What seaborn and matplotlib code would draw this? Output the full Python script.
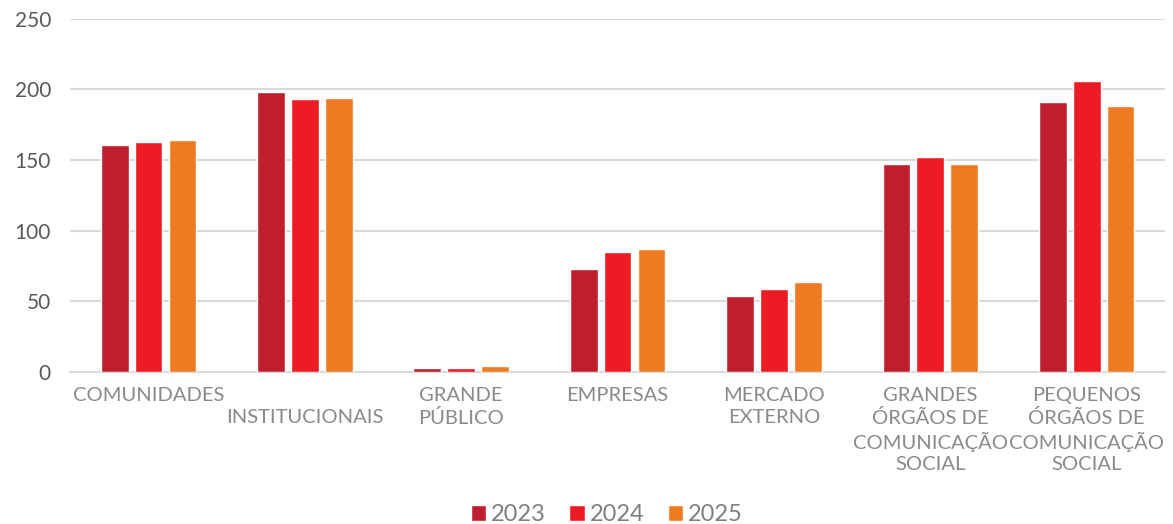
import pandas as pd
import seaborn as sns
import matplotlib.pyplot as plt

# Chart data
categories = ['COMUNIDADES', '\nINSTITUCIONAIS', 'GRANDE\nPÚBLICO', 'EMPRESAS',
              'MERCADO\nEXTERNO', 'GRANDES\nÓRGÃOS DE\nCOMUNICAÇÃO\nSOCIAL',
              'PEQUENOS\nÓRGÃOS DE\nCOMUNICAÇÃO\nSOCIAL']
years = ['2023', '2024', '2025']
values_2023 = [161, 198, 3, 73, 54, 147, 191]
values_2024 = [163, 193, 3, 85, 59, 152, 206]
values_2025 = [164, 194, 4, 87, 64, 147, 188]
colors = ['#BE1E2D', '#ED1C24', '#EE7B22']

df = pd.DataFrame({
    'categoria': categories * 3,
    'ano': [y for y in years for _ in categories],
    'valor': values_2023 + values_2024 + values_2025,
})

sns.set_theme(style='white')
plt.rcParams['font.family'] = ['Lato', 'DejaVu Sans']

fig = plt.figure(figsize=(11.73, 5.24), dpi=100)
ax = fig.add_axes([0.060, 0.29, 0.933, 0.674])

sns.barplot(data=df, x='categoria', y='valor', hue='ano', palette=colors,
            width=0.65, gap=0.18, saturation=1, ax=ax, zorder=3)

ax.set_ylim(0, 250)
ax.set_xlim(-0.5, 6.5)
ax.set_yticks(range(0, 251, 50))
ax.yaxis.grid(True, color='#d9d9d9', linewidth=1.5, zorder=0)
ax.set_xlabel('')
ax.set_ylabel('')
for s in ['top', 'right', 'left']:
    ax.spines[s].set_visible(False)
ax.spines['bottom'].set_color('#d9d9d9')
ax.spines['bottom'].set_linewidth(1.5)

ax.tick_params(axis='y', length=0, pad=14, labelsize=15, labelcolor='#595959')
ax.tick_params(axis='x', length=0, pad=11, labelsize=14.5, labelcolor='#8a8a8a')
for lbl in ax.get_xticklabels():
    lbl.set_linespacing(1.3)

ax.legend(loc='upper center', bbox_to_anchor=(0.49, -0.328), ncol=3, frameon=False,
          fontsize=17, labelcolor='#7f7f7f', handlelength=0.65, handleheight=0.65,
          handletextpad=0.2, columnspacing=1.0, borderpad=0.2)

plt.savefig('out.png', dpi=100, facecolor='white')
